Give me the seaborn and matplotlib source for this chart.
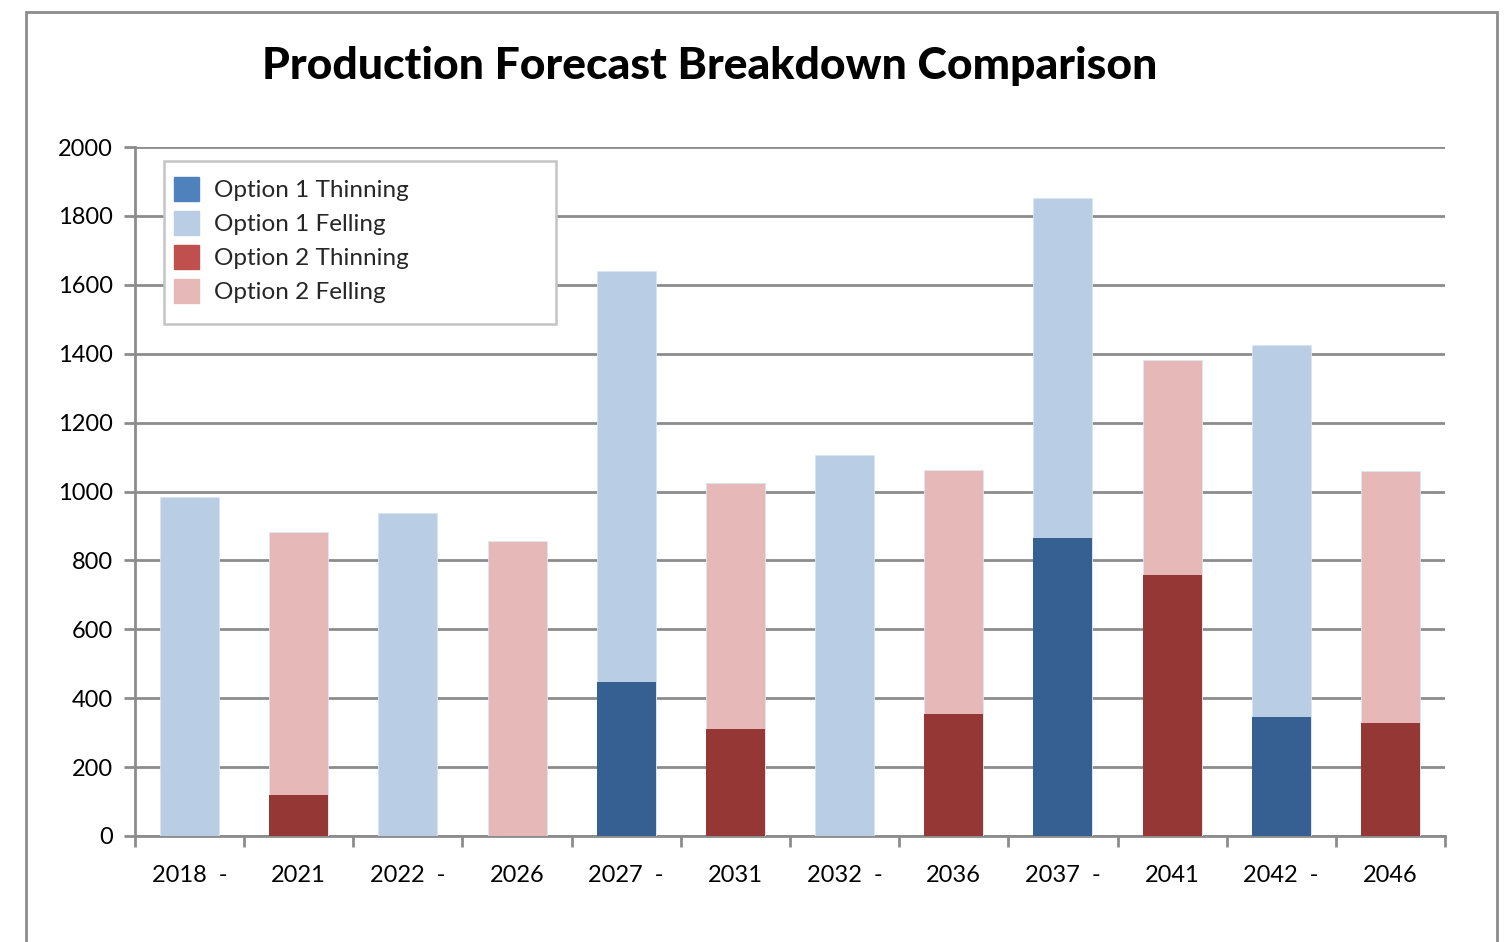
import matplotlib
matplotlib.use("Agg")
import matplotlib.pyplot as plt
from matplotlib.patches import Patch, Rectangle
import seaborn as sns
import pandas as pd

# Harvest periods and which option each bar belongs to
periods = ["2018  -", "2021", "2022  -", "2026", "2027  -", "2031",
           "2032  -", "2036", "2037  -", "2041", "2042  -", "2046"]
options = ["Option 1", "Option 2"] * 6

# Volumes per period (thinning at the base, felling stacked above)
thinning = [0, 118, 0, 0, 447, 311, 0, 355, 864, 759, 345, 328]
felling = [984, 763, 938, 857, 1193, 715, 1105, 706, 988, 622, 1081, 732]

y_ticks = list(range(0, 2001, 200))
legend_labels = ["Option 1 Thinning", "Option 1 Felling",
                 "Option 2 Thinning", "Option 2 Felling"]

df = pd.DataFrame({"period": periods, "option": options,
                   "thinning": thinning, "felling": felling})
df["total"] = df["thinning"] + df["felling"]

felling_colors = {"Option 1": "#B9CDE5", "Option 2": "#E6B9B8"}
thinning_colors = {"Option 1": "#366092", "Option 2": "#953735"}
legend_colors = ["#4F81BD", "#B9CDE5", "#C0504D", "#E6B9B8"]
grid_grey = "#8C8C8C"

sns.set_theme(style="white")
plt.rcParams["font.family"] = ["Lato", "DejaVu Sans"]

fig = plt.figure(figsize=(15.1, 9.42), dpi=100)
ax = fig.add_axes([135 / 1510, 1 - 836 / 942, 1310 / 1510, 689 / 942])

sns.barplot(data=df, x="period", y="total", hue="option", order=periods,
            palette=felling_colors, dodge=False, width=0.54, saturation=1,
            legend=False, ax=ax, edgecolor="#DCE6F2", linewidth=0.6, zorder=3)
sns.barplot(data=df, x="period", y="thinning", hue="option", order=periods,
            palette=thinning_colors, dodge=False, width=0.54, saturation=1,
            legend=False, ax=ax, linewidth=0, zorder=3)

ax.set_xlim(-0.5, len(periods) - 0.5)
ax.set_ylim(0, 2000)
ax.set_yticks(y_ticks)
ax.set_yticklabels([str(v) for v in y_ticks])
ax.set_xlabel("")
ax.set_ylabel("")

ax.yaxis.grid(True, color=grid_grey, linewidth=2.0, zorder=0)
ax.set_axisbelow(True)
for side in ["top", "right"]:
    ax.spines[side].set_visible(False)
for side in ["left", "bottom"]:
    ax.spines[side].set_color(grid_grey)
    ax.spines[side].set_linewidth(2.0)

ax.tick_params(axis="y", left=True, length=8, width=2, color=grid_grey,
               labelsize=17, pad=8, labelcolor="black")
ax.set_xticks(range(len(periods)))
ax.set_xticklabels(periods)
ax.set_xticks([i - 0.5 for i in range(len(periods) + 1)], minor=True)
ax.tick_params(axis="x", which="major", length=0, labelsize=17, pad=21,
               labelcolor="black")
ax.tick_params(axis="x", which="minor", bottom=True, length=8, width=2,
               color=grid_grey)

# Legend panel
fig.patches.append(Rectangle((164 / 1510, 1 - 324 / 942), 392 / 1510, 163 / 942,
                             transform=fig.transFigure, facecolor="white",
                             edgecolor="#C4C4C4", linewidth=1.8, zorder=5))
handles = [Patch(facecolor=c, edgecolor=c) for c in legend_colors]
leg = fig.legend(handles, legend_labels, loc="upper left",
                 bbox_to_anchor=(169 / 1510, 1 - 172 / 942),
                 frameon=False, fontsize=17.5, handlelength=1.05, handleheight=1.15,
                 handletextpad=0.6, labelspacing=0.4, borderaxespad=0,
                 borderpad=0.2)
leg.set_zorder(6)

fig.text(710 / 1510, 1 - 66 / 942, "Production Forecast Breakdown Comparison",
         ha="center", va="center", fontsize=32, fontweight="black",
         color="black")

# Outer chart frame
fig.patches.append(Rectangle((26 / 1510, -0.1), 1471 / 1510, 1.1 - 12 / 942,
                             transform=fig.transFigure, facecolor="none",
                             edgecolor=grid_grey, linewidth=2.0))

fig.savefig("out.png", dpi=100)
